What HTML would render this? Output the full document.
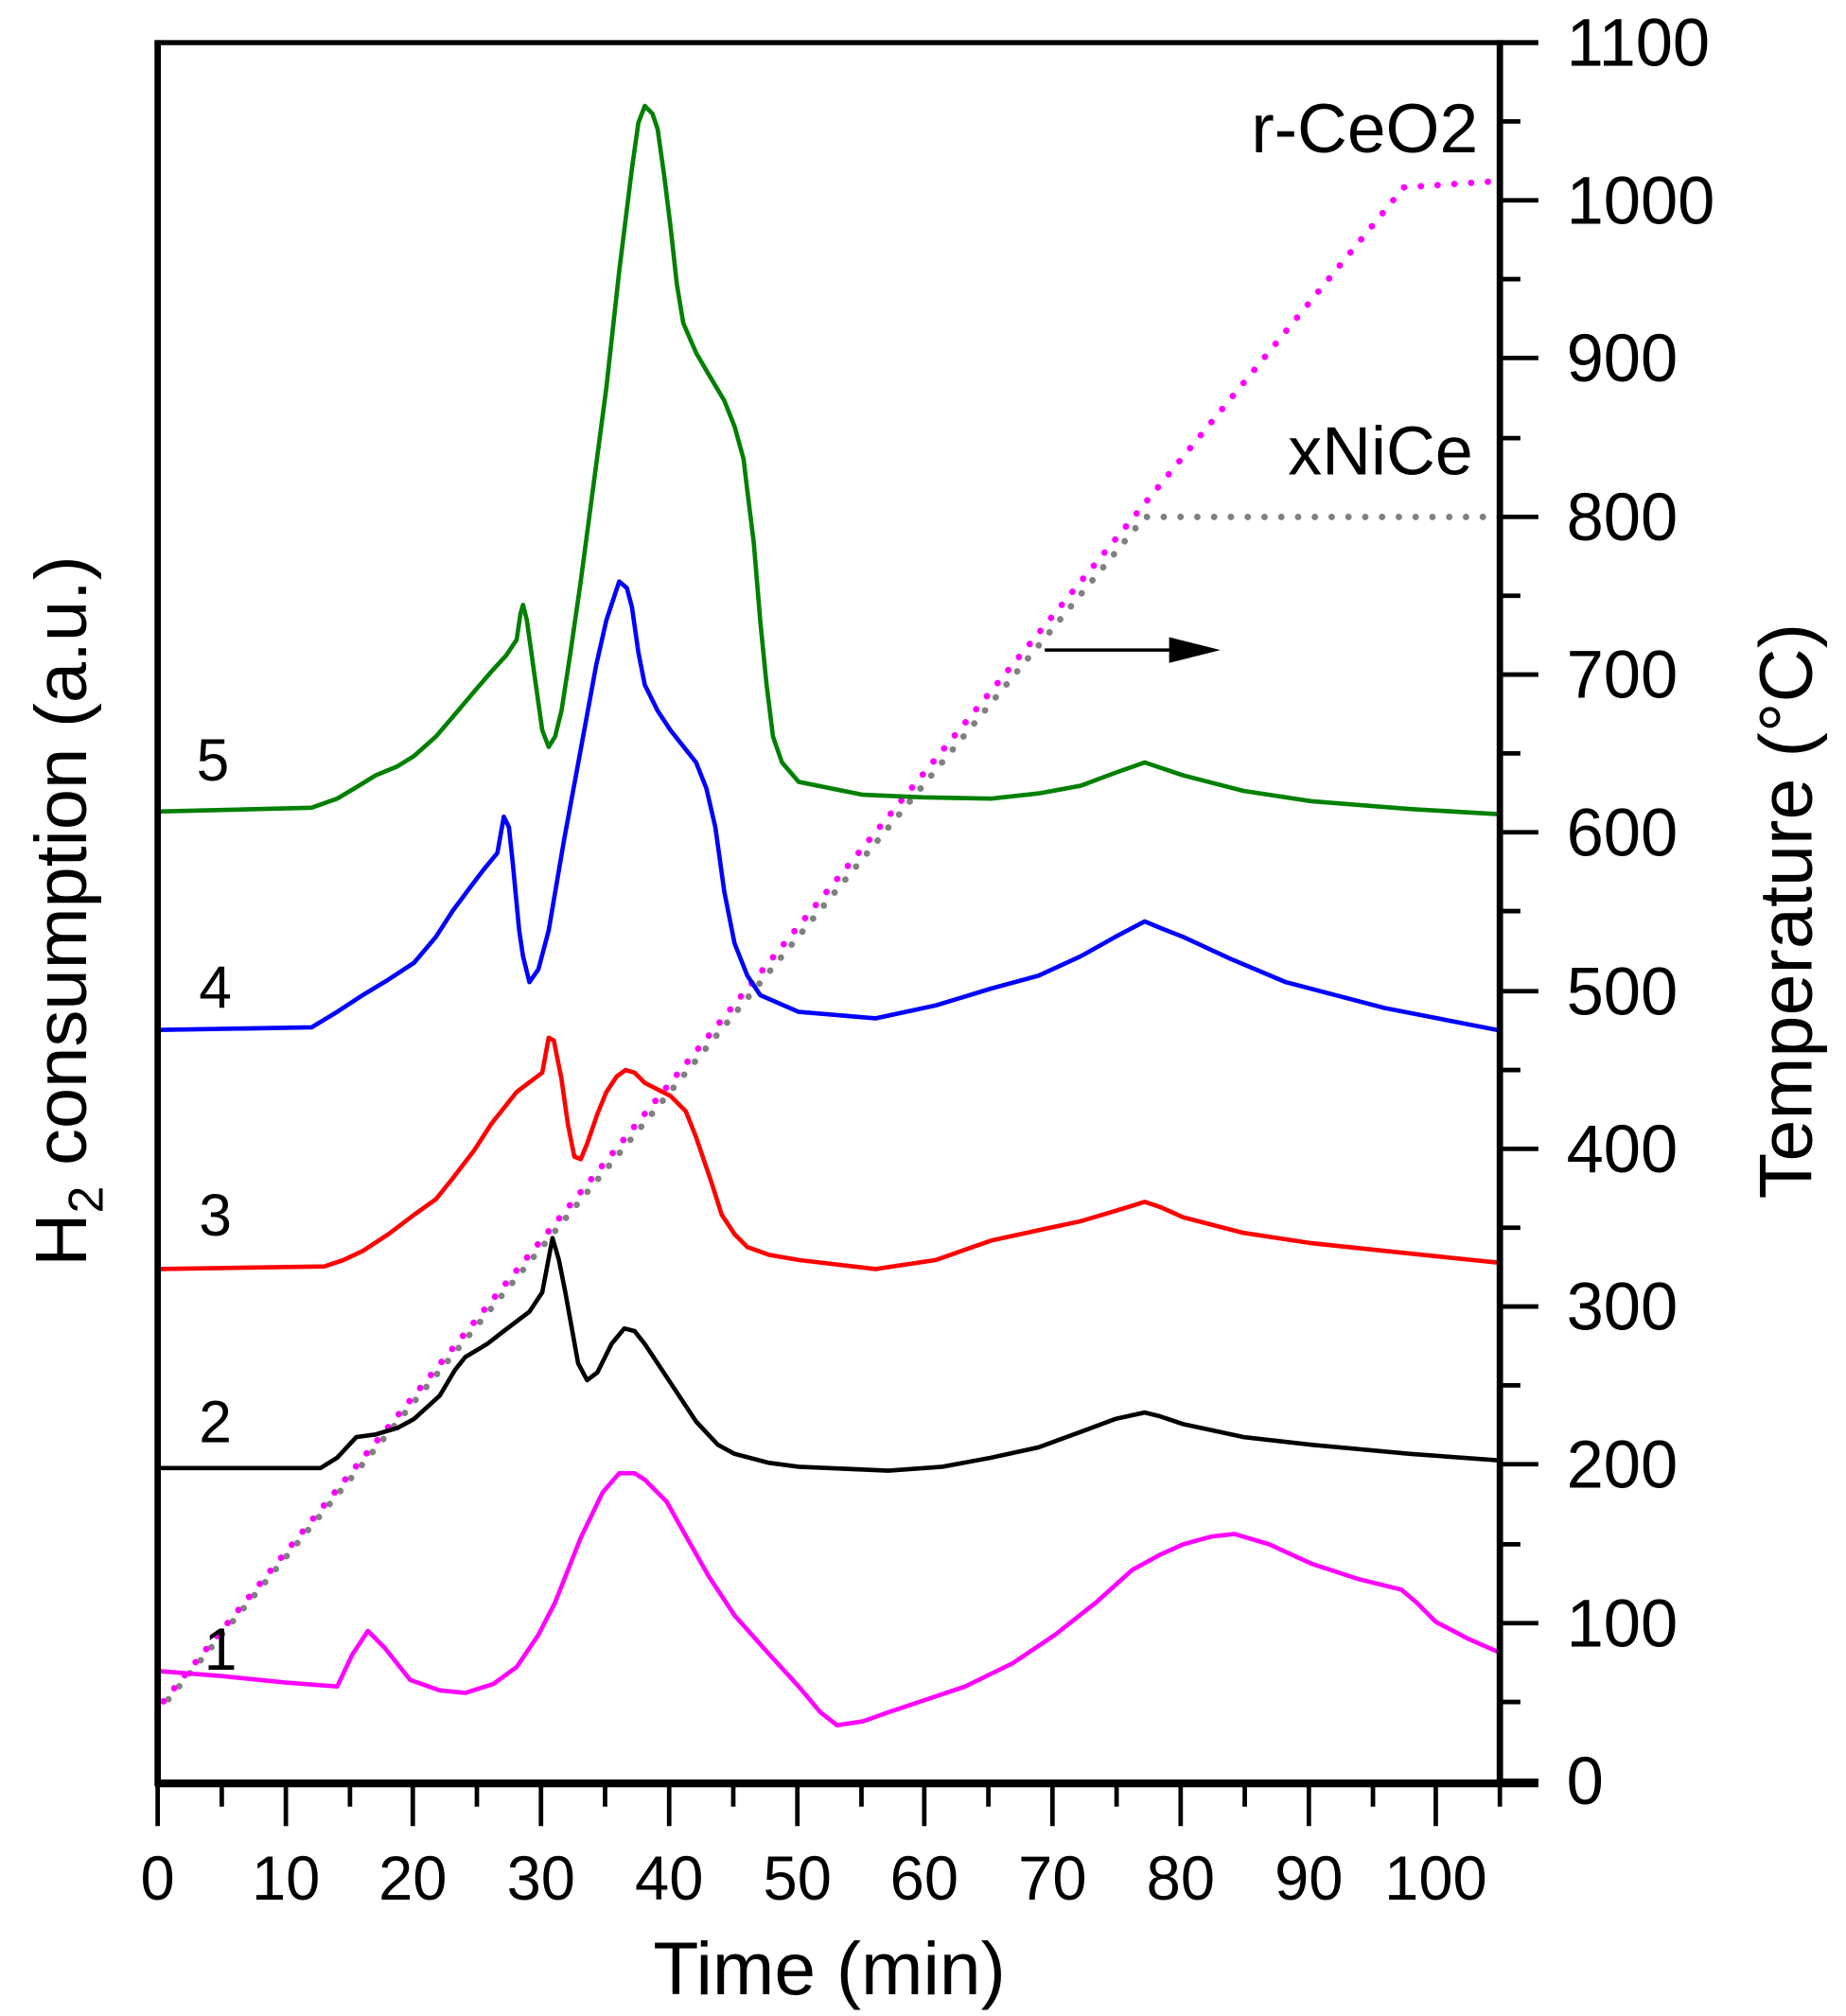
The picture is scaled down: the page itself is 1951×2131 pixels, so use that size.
<!DOCTYPE html>
<html><head><meta charset="utf-8"><style>html,body{margin:0;padding:0;background:#fff}svg{display:block}</style></head>
<body>
<svg width="1951" height="2131" viewBox="0 0 1440 1560" preserveAspectRatio="none" xmlns="http://www.w3.org/2000/svg" font-family="Liberation Sans, sans-serif">
<rect width="1440" height="1560" fill="#fff"/>
<polyline points="123,1325 893,400 1170,400" fill="none" stroke="#808080" stroke-width="5" stroke-linecap="round" stroke-dasharray="0.1 13"/>
<polyline points="123,1322 1095,145 1170,140" fill="none" stroke="#ff00ff" stroke-width="5" stroke-linecap="round" stroke-dasharray="0.1 13" stroke-dashoffset="6"/>
<g fill="none" stroke-width="3.4" stroke-linejoin="round">
<polyline stroke="#ff00ff" points="123,1293 173,1297 223,1302 263,1305 275,1280 287,1262 300,1275 320,1300 343,1308 363,1310 385,1303 403,1290 420,1265 433,1240 453,1190 470,1155 483,1140 495,1140 503,1145 520,1162 533,1185 553,1220 573,1250 600,1280 623,1305 640,1325 653,1335 673,1332 693,1325 723,1315 753,1305 790,1287 823,1265 855,1240 883,1215 905,1203 923,1195 945,1189 963,1187 990,1195 1023,1210 1060,1222 1093,1230 1105,1240 1120,1255 1145,1268 1168,1278"/>
<polyline stroke="#000" points="123,1136 250,1136 263,1128 278,1112 293,1110 310,1105 323,1098 343,1080 355,1060 363,1050 380,1040 393,1030 413,1015 423,1000 431,958 436,975 441,1000 451,1055 458,1068 466,1062 477,1040 487,1028 495,1030 503,1040 523,1070 543,1100 560,1118 573,1125 600,1132 623,1135 693,1138 735,1135 773,1128 810,1120 843,1108 870,1098 893,1093 905,1096 923,1102 970,1112 1023,1118 1100,1125 1168,1130"/>
<polyline stroke="#ff0000" points="123,982 253,980 268,975 283,968 303,955 323,940 340,928 353,912 370,890 383,870 395,855 403,845 423,830 428,803 432,805 438,835 443,870 448,895 453,897 458,885 466,862 473,845 481,833 488,828 495,830 503,838 523,848 535,860 543,880 555,915 563,940 573,955 583,965 600,971 623,975 683,982 730,975 773,960 810,952 843,945 870,937 893,930 905,934 923,942 970,954 1023,962 1100,970 1168,977"/>
<polyline stroke="#0000ff" points="123,797 243,795 263,783 283,770 303,758 323,745 340,725 353,705 368,685 378,672 388,660 393,632 397,640 400,668 405,720 408,740 413,760 420,750 428,720 440,650 453,580 465,515 473,480 483,450 489,455 493,470 498,505 503,530 513,550 523,565 543,590 551,610 558,640 565,690 573,730 583,755 593,770 623,783 683,788 730,778 773,765 810,755 843,740 870,725 893,713 905,718 923,725 960,742 1003,760 1080,780 1168,797"/>
<polyline stroke="#008000" points="123,628 243,625 263,618 280,608 293,600 310,593 323,585 340,570 353,555 370,535 383,520 395,507 403,495 406,475 408,468 411,480 418,530 423,565 428,578 433,570 438,550 445,505 453,450 463,375 473,300 483,210 493,130 498,95 503,82 509,88 513,100 518,135 523,175 528,220 533,250 543,273 553,290 565,310 573,330 580,355 583,380 588,420 593,480 598,530 603,570 610,590 623,605 673,615 720,617 773,618 810,614 843,608 870,598 893,590 905,594 923,600 970,612 1023,620 1100,626 1168,630"/>
</g>
<line x1="815" y1="503" x2="915" y2="503" stroke="#000" stroke-width="2.5"/>
<polygon points="912,493 952,503 912,513" fill="#000"/>
<g stroke="#000" fill="none">
<line x1="123" y1="31" x2="123" y2="1382" stroke-width="5"/>
<line x1="1170" y1="31" x2="1170" y2="1382" stroke-width="5"/>
<line x1="121" y1="33" x2="1200" y2="33" stroke-width="4"/>
<line x1="121" y1="1380" x2="1200" y2="1380" stroke-width="6"/>
</g>
<g stroke="#000" stroke-width="3.5">
<line x1="123" y1="1380" x2="123" y2="1413"/><line x1="173" y1="1380" x2="173" y2="1398"/>
<line x1="223" y1="1380" x2="223" y2="1413"/><line x1="273" y1="1380" x2="273" y2="1398"/>
<line x1="322" y1="1380" x2="322" y2="1413"/><line x1="372" y1="1380" x2="372" y2="1398"/>
<line x1="422" y1="1380" x2="422" y2="1413"/><line x1="472" y1="1380" x2="472" y2="1398"/>
<line x1="522" y1="1380" x2="522" y2="1413"/><line x1="572" y1="1380" x2="572" y2="1398"/>
<line x1="622" y1="1380" x2="622" y2="1413"/><line x1="672" y1="1380" x2="672" y2="1398"/>
<line x1="721" y1="1380" x2="721" y2="1413"/><line x1="771" y1="1380" x2="771" y2="1398"/>
<line x1="821" y1="1380" x2="821" y2="1413"/><line x1="871" y1="1380" x2="871" y2="1398"/>
<line x1="921" y1="1380" x2="921" y2="1413"/><line x1="971" y1="1380" x2="971" y2="1398"/>
<line x1="1021" y1="1380" x2="1021" y2="1413"/><line x1="1071" y1="1380" x2="1071" y2="1398"/>
<line x1="1120" y1="1380" x2="1120" y2="1413"/><line x1="1170" y1="1380" x2="1170" y2="1398"/>
</g>
<g stroke="#000" stroke-width="3.5">
<line x1="1170" y1="1378" x2="1200" y2="1378"/><line x1="1170" y1="1317" x2="1186" y2="1317"/>
<line x1="1170" y1="1256" x2="1200" y2="1256"/><line x1="1170" y1="1195" x2="1186" y2="1195"/>
<line x1="1170" y1="1133" x2="1200" y2="1133"/><line x1="1170" y1="1072" x2="1186" y2="1072"/>
<line x1="1170" y1="1011" x2="1200" y2="1011"/><line x1="1170" y1="950" x2="1186" y2="950"/>
<line x1="1170" y1="889" x2="1200" y2="889"/><line x1="1170" y1="828" x2="1186" y2="828"/>
<line x1="1170" y1="767" x2="1200" y2="767"/><line x1="1170" y1="705" x2="1186" y2="705"/>
<line x1="1170" y1="644" x2="1200" y2="644"/><line x1="1170" y1="583" x2="1186" y2="583"/>
<line x1="1170" y1="522" x2="1200" y2="522"/><line x1="1170" y1="461" x2="1186" y2="461"/>
<line x1="1170" y1="400" x2="1200" y2="400"/><line x1="1170" y1="339" x2="1186" y2="339"/>
<line x1="1170" y1="277" x2="1200" y2="277"/><line x1="1170" y1="216" x2="1186" y2="216"/>
<line x1="1170" y1="155" x2="1200" y2="155"/><line x1="1170" y1="94" x2="1186" y2="94"/>
</g>
<g font-size="52" fill="#000">
<text x="1222" y="1396">0</text><text x="1222" y="1274">100</text><text x="1222" y="1151">200</text>
<text x="1222" y="1029">300</text><text x="1222" y="907">400</text><text x="1222" y="785">500</text>
<text x="1222" y="662">600</text><text x="1222" y="540">700</text><text x="1222" y="418">800</text>
<text x="1222" y="295">900</text><text x="1222" y="173">1000</text><text x="1222" y="51">1100</text>
</g>
<g font-size="48" fill="#000" text-anchor="middle">
<text x="123" y="1470">0</text><text x="223" y="1470">10</text><text x="322" y="1470">20</text>
<text x="422" y="1470">30</text><text x="522" y="1470">40</text><text x="622" y="1470">50</text>
<text x="721" y="1470">60</text><text x="821" y="1470">70</text><text x="921" y="1470">80</text>
<text x="1021" y="1470">90</text><text x="1120" y="1470">100</text>
</g>
<text x="647" y="1543" font-size="58" text-anchor="middle">Time (min)</text>
<text transform="translate(67,705) rotate(-90)" font-size="57" text-anchor="middle">H<tspan font-size="38" dy="13">2</tspan><tspan dy="-13"> consumption (a.u.)</tspan></text>
<text transform="translate(1413,705) rotate(-90)" font-size="58" text-anchor="middle">Temperature (°C)</text>
<g font-size="46" fill="#000" text-anchor="middle">
<text x="166" y="604">5</text><text x="168" y="780">4</text><text x="168" y="956">3</text>
<text x="168" y="1116">2</text><text x="172" y="1292">1</text>
</g>
<text x="1153" y="118" font-size="54" text-anchor="end">r-CeO2</text>
<text x="1149" y="367" font-size="53" text-anchor="end">xNiCe</text>
</svg>
</body></html>
